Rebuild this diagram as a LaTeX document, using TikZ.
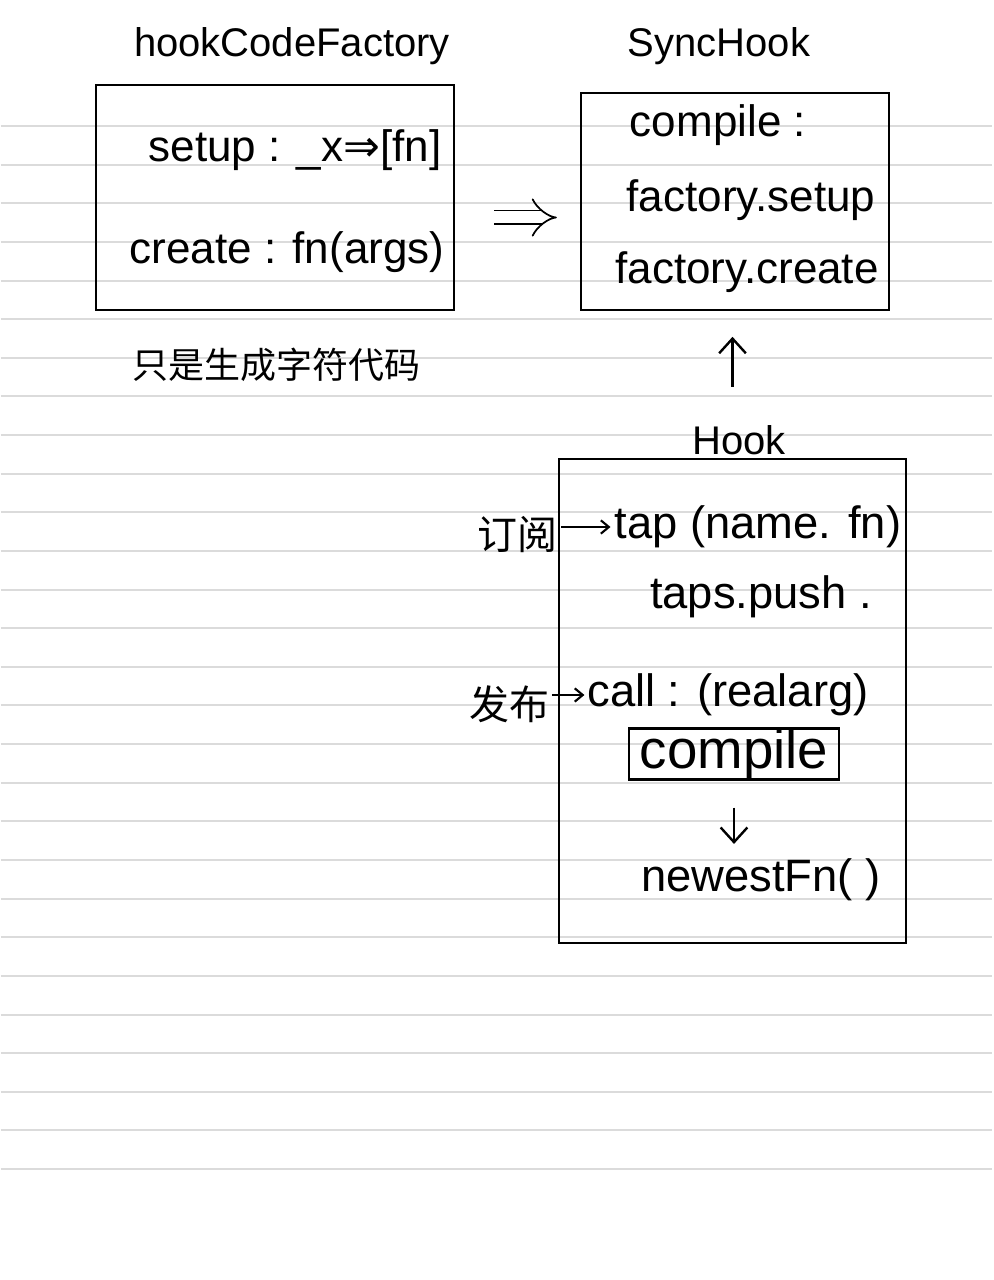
\documentclass[tikz,border=0pt]{standalone}
\usepackage{fontspec}
\setmainfont{Liberation Sans}
\newfontfamily\cjk{Noto Sans CJK SC}
\newfontfamily\symfont{DejaVu Sans}
\usetikzlibrary{arrows.meta}
\tikzset{
  rule/.style={draw=black!14, line width=1.5pt},
  title/.style={font=\fontsize{30}{36}\selectfont, inner sep=0pt},
  txt/.style={font=\fontsize{33}{40}\selectfont, inner sep=0pt},
  htxt/.style={font=\fontsize{34}{40}\selectfont, inner sep=0pt},
  zh/.style={font=\cjk\fontsize{27}{32}\selectfont, inner sep=0pt},
  zhb/.style={font=\cjk\fontsize{30}{36}\selectfont, inner sep=0pt},
  frame/.style={draw, line width=2.2pt, inner sep=0pt},
  arr/.style={line width=1.8pt, -{Straight Barb[length=11pt,width=20pt]}},
  arrsmall/.style={line width=1.6pt, -{Straight Barb[length=6pt,width=10pt]}},
}
\begin{document}
\begin{tikzpicture}[x=0.75pt,y=-0.75pt]
\fill[white] (0,0) rectangle (991,1280);
\foreach \k in {0,...,27} \draw[rule] (0,{126+\k*38.63}) -- (991,{126+\k*38.63});
\useasboundingbox (0,0) rectangle (991,1280);

% hookCodeFactory
\node[frame, minimum width=268.5pt, minimum height=168.75pt] (factory) at (274,197.5) {};
\node[title] (factoryT) at (291,46) {hookCodeFactory};
\node[txt] (setup) at (294,150) {setup : \_x{\symfont ⇒}[fn]};
\node[txt] (create) at (286,252) {create : fn(args)};
\node[zh] (note) at (275,365) {只是生成字符代码};

% SyncHook
\node[frame, minimum width=231pt, minimum height=162.75pt] (sync) at (734,201.5) {};
\node[title] (syncT) at (718,46) {SyncHook};
\node[txt] (compileA) at (717,125) {compile :};
\node[txt] (fsetup) at (750,200) {factory.setup};
\node[txt] (fcreate) at (746,272) {factory.create};

% Hook
\node[frame, minimum width=260.25pt, minimum height=363pt] (hook) at (731.5,701) {};
\node[title] (hookT) at (738,440) {Hook};
\node[htxt] (tap) at (757,527) {tap (name. fn)};
\node[zhb] (sub) at (516,535) {订阅};
\node[htxt] (push) at (760,597) {taps.push .};
\node[zhb] (pub) at (508,704) {发布};
\node[htxt] (call) at (727,695) {call : (realarg)};
\node[frame, font=\fontsize{41}{48}\selectfont, minimum width=157.5pt, minimum height=35pt] (compileB) at (733,754) {compile};
\node[htxt] (newest) at (760,880) {newestFn( )};

% connectors
\draw[line width=1.3pt, double, double distance=9pt, -{Implies}, shorten <=29pt, shorten >=17pt]
  ([yshift=-15pt]factory.east) -- ([yshift=-15pt]factory.east -| sync.west);
\draw[arr, shorten <=53pt, shorten >=19pt] (hook.north) -- (hook.north |- sync.south);
\draw[arrsmall, shorten <=3pt, shorten >=3pt] (sub.east |- tap.west) -- (tap.west);
\draw[arrsmall, shorten <=2pt, shorten >=2pt] (pub.east |- call.west) -- (call.west);
\draw[arr, shorten <=20pt, shorten >=11pt] (compileB.south) -- (compileB.south |- newest.north);
\end{tikzpicture}
\end{document}
